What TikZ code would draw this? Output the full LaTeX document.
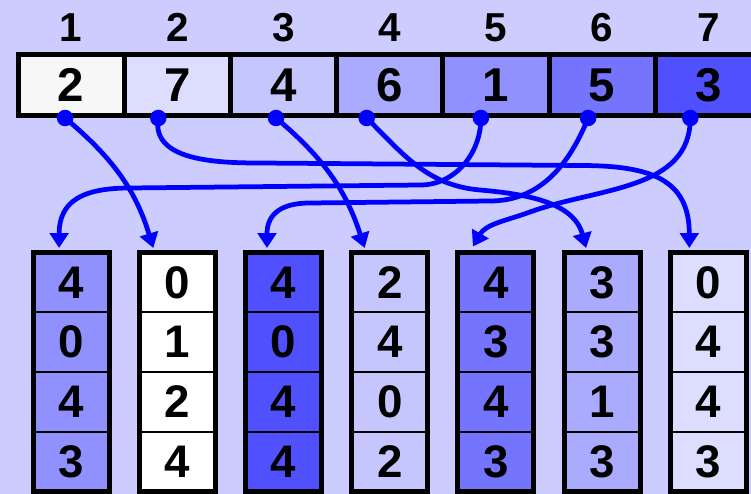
\documentclass[tikz,border=0pt]{standalone}
\usepackage{fontspec}
\setmainfont{Liberation Sans}
\usetikzlibrary{arrows.meta, positioning, calc}
\definecolor{bgc}{HTML}{CCCCFF}
\definecolor{sh1}{HTML}{F7F7F7}
\definecolor{sh2}{HTML}{DDDDFF}
\definecolor{sh3}{HTML}{C6C6FF}
\definecolor{sh4}{HTML}{AAAAFF}
\definecolor{sh5}{HTML}{9090FF}
\definecolor{sh6}{HTML}{7474FF}
\definecolor{sh7}{HTML}{5050FF}
\tikzset{
  cel/.style={draw, line width=1mm, minimum width=2.124cm, minimum height=1.22cm, inner sep=0pt, outer sep=0pt, font=\fontsize{27}{30}\selectfont\bfseries},
  idx/.style={inner sep=0pt, outer sep=0pt, font=\fontsize{23}{26}\selectfont\bfseries},
  bkt/.style={draw, line width=0.4mm, minimum width=1.52cm, minimum height=1.195cm, inner sep=0pt, outer sep=0pt, font=\fontsize{26}{28}\selectfont\bfseries},
  frm/.style={line width=1mm},
  src/.style={circle, fill=blue, inner sep=0pt, minimum size=3.3mm},
  tra/.style={-{Triangle[length=3mm, width=3.7mm]}, blue, line width=0.95mm}
}
\begin{document}
\begin{tikzpicture}
	\fill[bgc] (0,0) rectangle (15.02,-9.88);
	\useasboundingbox (0,0) rectangle (15.02,-9.88);
	\node[cel, fill=sh1] (c1) at (1.422,-1.70) {2};
	\node[cel, fill=sh2, right=0pt of c1] (c2) {7};
	\node[cel, fill=sh3, right=0pt of c2] (c3) {4};
	\node[cel, fill=sh4, right=0pt of c3] (c4) {6};
	\node[cel, fill=sh5, right=0pt of c4] (c5) {1};
	\node[cel, fill=sh6, right=0pt of c5] (c6) {5};
	\node[cel, fill=sh7, right=0pt of c6] (c7) {3};
	\node[idx, above=0.25cm of c1] (n1) {1};
	\node[idx, above=0.25cm of c2] (n2) {2};
	\node[idx, above=0.25cm of c3] (n3) {3};
	\node[idx, above=0.25cm of c4] (n4) {4};
	\node[idx, above=0.25cm of c5] (n5) {5};
	\node[idx, above=0.25cm of c6] (n6) {6};
	\node[idx, above=0.25cm of c7] (n7) {7};
	\node[bkt, fill=sh5] (k1a) at (1.422,-5.648) {4};
	\node[bkt, fill=sh5, below=0pt of k1a] (k1b) {0};
	\node[bkt, fill=sh5, below=0pt of k1b] (k1c) {4};
	\node[bkt, fill=sh5, below=0pt of k1c] (k1d) {3};
	\node[bkt, fill=white] (k2a) at (3.546,-5.648) {0};
	\node[bkt, fill=white, below=0pt of k2a] (k2b) {1};
	\node[bkt, fill=white, below=0pt of k2b] (k2c) {2};
	\node[bkt, fill=white, below=0pt of k2c] (k2d) {4};
	\node[bkt, fill=sh7] (k3a) at (5.670,-5.648) {4};
	\node[bkt, fill=sh7, below=0pt of k3a] (k3b) {0};
	\node[bkt, fill=sh7, below=0pt of k3b] (k3c) {4};
	\node[bkt, fill=sh7, below=0pt of k3c] (k3d) {4};
	\node[bkt, fill=sh3] (k4a) at (7.794,-5.648) {2};
	\node[bkt, fill=sh3, below=0pt of k4a] (k4b) {4};
	\node[bkt, fill=sh3, below=0pt of k4b] (k4c) {0};
	\node[bkt, fill=sh3, below=0pt of k4c] (k4d) {2};
	\node[bkt, fill=sh6] (k5a) at (9.918,-5.648) {4};
	\node[bkt, fill=sh6, below=0pt of k5a] (k5b) {3};
	\node[bkt, fill=sh6, below=0pt of k5b] (k5c) {4};
	\node[bkt, fill=sh6, below=0pt of k5c] (k5d) {3};
	\node[bkt, fill=sh4] (k6a) at (12.042,-5.648) {3};
	\node[bkt, fill=sh4, below=0pt of k6a] (k6b) {3};
	\node[bkt, fill=sh4, below=0pt of k6b] (k6c) {1};
	\node[bkt, fill=sh4, below=0pt of k6c] (k6d) {3};
	\node[bkt, fill=sh2] (k7a) at (14.166,-5.648) {0};
	\node[bkt, fill=sh2, below=0pt of k7a] (k7b) {4};
	\node[bkt, fill=sh2, below=0pt of k7b] (k7c) {4};
	\node[bkt, fill=sh2, below=0pt of k7c] (k7d) {3};
	\draw[frm] (k1a.north west) rectangle (k1d.south east);
	\draw[frm] (k2a.north west) rectangle (k2d.south east);
	\draw[frm] (k3a.north west) rectangle (k3d.south east);
	\draw[frm] (k4a.north west) rectangle (k4d.south east);
	\draw[frm] (k5a.north west) rectangle (k5d.south east);
	\draw[frm] (k6a.north west) rectangle (k6d.south east);
	\draw[frm] (k7a.north west) rectangle (k7d.south east);
	\node[src] (d1) at ([xshift=-0.12cm, yshift=-0.05cm]c1.south) {};
	\node[src] (d2) at ([xshift=-0.38cm, yshift=-0.05cm]c2.south) {};
	\node[src] (d3) at ([xshift=-0.15cm, yshift=-0.05cm]c3.south) {};
	\node[src] (d4) at ([xshift=-0.46cm, yshift=-0.05cm]c4.south) {};
	\node[src] (d5) at ([xshift=-0.30cm, yshift=-0.05cm]c5.south) {};
	\node[src] (d6) at ([xshift=-0.28cm, yshift=-0.05cm]c6.south) {};
	\node[src] (d7) at ([xshift=-0.36cm, yshift=-0.05cm]c7.south) {};
	\coordinate (t1) at ([xshift=-0.24cm, yshift=0.09cm]k1a.north);
	\coordinate (t2) at ([xshift=-0.48cm, yshift=0.09cm]k2a.north);
	\coordinate (t3) at ([xshift=-0.33cm, yshift=0.09cm]k3a.north);
	\coordinate (t4) at ([xshift=-0.50cm, yshift=0.09cm]k4a.north);
	\coordinate (t5) at ([xshift=-0.46cm, yshift=0.12cm]k5a.north);
	\coordinate (t6) at ([xshift=-0.32cm, yshift=0.09cm]k6a.north);
	\coordinate (t7) at ([xshift=-0.38cm, yshift=0.09cm]k7a.north);
	\draw[tra] (d1.center) to[out=-40, in=107] (t2);
	\draw[tra] (d2.center) to[out=-100, in=180] (5.2,-3.26) -- (11.6,-3.31) to[out=0, in=90, looseness=1.3] (t7);
	\draw[tra] (d3.center) to[out=-40, in=108] (t4);
	\draw[tra] (d4.center) to[out=-45, in=175] (9.6,-3.8) to[out=-5, in=105] (t6);
	\draw[tra] (d5.center) to[out=-90, in=0] (8.4,-3.7) -- (2.6,-3.76) to[out=180, in=90, looseness=1.3] (t1);
	\draw[tra] (d6.center) to[out=-112, in=0] (9.8,-4.02) -- (6.2,-4.06) to[out=180, in=90, looseness=1.3] (t3);
	\draw[tra] (d7.center) to[out=-90, in=20] (10.6,-4.24) to[out=200, in=60] (t5);
\end{tikzpicture}
\end{document}
